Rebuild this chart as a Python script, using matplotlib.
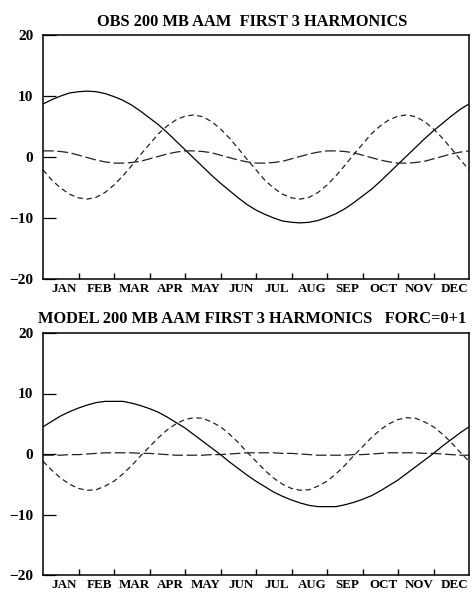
import numpy as np
import matplotlib
matplotlib.use("Agg")
import matplotlib.pyplot as plt
from matplotlib.transforms import ScaledTranslation

# ---------------------------------------------------------------- data
# time axis in months from 1 Jan, quarter-month samples
months = np.arange(49) * 0.25
month_labels = ["JAN", "FEB", "MAR", "APR", "MAY", "JUN",
                "JUL", "AUG", "SEP", "OCT", "NOV", "DEC"]

obs_h1 = [8.7, 9.4, 10.0, 10.5, 10.7, 10.8, 10.7, 10.4, 9.9, 9.3, 8.5, 7.5, 6.4,
          5.3, 4.0, 2.6, 1.2, -0.2, -1.6, -3.0, -4.3, -5.5, -6.7, -7.8, -8.7,
          -9.4, -10.0, -10.5, -10.7, -10.8, -10.7, -10.4, -9.9, -9.3, -8.5, -7.5,
          -6.4, -5.3, -4.0, -2.6, -1.2, 0.2, 1.6, 3.0, 4.3, 5.5, 6.7, 7.8, 8.7]
obs_h2 = [-2.1, -3.8, -5.1, -6.1, -6.7, -6.9, -6.6, -5.8, -4.6, -3.1, -1.4, 0.4,
          2.1, 3.8, 5.1, 6.1, 6.7, 6.9, 6.6, 5.8, 4.6, 3.1, 1.4, -0.4, -2.1, -3.8,
          -5.1, -6.1, -6.7, -6.9, -6.6, -5.8, -4.6, -3.1, -1.4, 0.4, 2.1, 3.8, 5.1,
          6.1, 6.7, 6.9, 6.6, 5.8, 4.6, 3.1, 1.4, -0.4, -2.1]
obs_h3 = [1.0, 1.0, 0.9, 0.7, 0.3, -0.1, -0.5, -0.8, -1.0, -1.0, -0.9, -0.7, -0.3,
          0.1, 0.5, 0.8, 1.0, 1.0, 0.9, 0.7, 0.3, -0.1, -0.5, -0.8, -1.0, -1.0,
          -0.9, -0.7, -0.3, 0.1, 0.5, 0.8, 1.0, 1.0, 0.9, 0.7, 0.3, -0.1, -0.5,
          -0.8, -1.0, -1.0, -0.9, -0.7, -0.3, 0.1, 0.5, 0.8, 1.0]

mod_h1 = [4.5, 5.4, 6.3, 7.0, 7.6, 8.1, 8.5, 8.7, 8.7, 8.7, 8.4, 8.0, 7.5, 6.9,
          6.1, 5.2, 4.3, 3.2, 2.1, 1.0, -0.1, -1.3, -2.4, -3.5, -4.5, -5.4, -6.3,
          -7.0, -7.6, -8.1, -8.5, -8.7, -8.7, -8.7, -8.4, -8.0, -7.5, -6.9, -6.1,
          -5.2, -4.3, -3.2, -2.1, -1.0, 0.1, 1.3, 2.4, 3.5, 4.5]
mod_h2 = [-1.2, -2.7, -4.0, -5.0, -5.7, -6.0, -5.9, -5.3, -4.5, -3.3, -1.9, -0.3,
          1.2, 2.7, 4.0, 5.0, 5.7, 6.0, 5.9, 5.3, 4.5, 3.3, 1.9, 0.3, -1.2, -2.7,
          -4.0, -5.0, -5.7, -6.0, -5.9, -5.3, -4.5, -3.3, -1.9, -0.3, 1.2, 2.7, 4.0,
          5.0, 5.7, 6.0, 5.9, 5.3, 4.5, 3.3, 1.9, 0.3, -1.2]
mod_h3 = [-0.2, -0.2, -0.2, -0.1, -0.1, 0.0, 0.1, 0.2, 0.2, 0.2, 0.2, 0.1, 0.1,
          0.0, -0.1, -0.2, -0.2, -0.2, -0.2, -0.1, -0.1, 0.0, 0.1, 0.2, 0.2, 0.2,
          0.2, 0.1, 0.1, 0.0, -0.1, -0.2, -0.2, -0.2, -0.2, -0.1, -0.1, 0.0, 0.1,
          0.2, 0.2, 0.2, 0.2, 0.1, 0.1, 0.0, -0.1, -0.2, -0.2]

titles = ["OBS 200 MB AAM  FIRST 3 HARMONICS",
          "MODEL 200 MB AAM FIRST 3 HARMONICS   FORC=0+1"]

# ---------------------------------------------------------------- figure
W, H = 474, 594
fig = plt.figure(figsize=(W / 100, H / 100), dpi=100)
FONT = "Liberation Serif"

def make_axes(top_px, bot_px):
    return fig.add_axes([43 / W, 1 - bot_px / H, 426 / W, (bot_px - top_px) / H])

def style_axes(ax):
    ax.set_xlim(0, 12)
    ax.set_ylim(-20, 20)
    for s in ax.spines.values():
        s.set_linewidth(1.1)
    ax.set_yticks([-20, -10, 0, 10, 20])
    ax.set_yticklabels(["\u221220", "\u221210", "0", "10", "20"],
                       fontfamily=FONT, fontweight="bold", fontsize=11)
    ax.tick_params(axis="y", direction="in", length=9.5, width=0.9, pad=7,
                   left=True, right=False)
    # month boundaries as ticks, month names centred between them
    ax.set_xticks(np.arange(1, 12))
    ax.set_xticklabels([])
    ax.set_xticks(np.arange(12) + 0.5, minor=True)
    ax.set_xticklabels(month_labels, minor=True, fontfamily=FONT,
                       fontweight="bold", fontsize=9.4)
    ax.tick_params(axis="x", which="major", direction="in", length=4.5, width=1.0)
    ax.tick_params(axis="x", which="minor", length=0, pad=3)
    shift = ScaledTranslation(3 / 100, 0, fig.dpi_scale_trans)
    for lab in ax.get_xticklabels(minor=True):
        lab.set_transform(lab.get_transform() + shift)

def draw(ax, h1, h2, h3):
    ax.plot(months, h1, color="black", lw=0.9, ls="-")
    ax.plot(months, h2, color="#222222", lw=0.9, dashes=(4.3, 2.9))
    ax.plot(months, h3, color="#222222", lw=0.9, dashes=(8.6, 2.9))

ax1 = make_axes(35, 279)
style_axes(ax1)
draw(ax1, obs_h1, obs_h2, obs_h3)

ax2 = make_axes(333, 575)
style_axes(ax2)
draw(ax2, mod_h1, mod_h2, mod_h3)

fig.text(252 / W, 1 - 21.5 / H, titles[0], ha="center", va="center",
         fontfamily=FONT, fontweight="bold", fontsize=11.8)
fig.text(252 / W, 1 - 319 / H, titles[1], ha="center", va="center",
         fontfamily=FONT, fontweight="bold", fontsize=11.8)

fig.savefig("out.png", dpi=100)
